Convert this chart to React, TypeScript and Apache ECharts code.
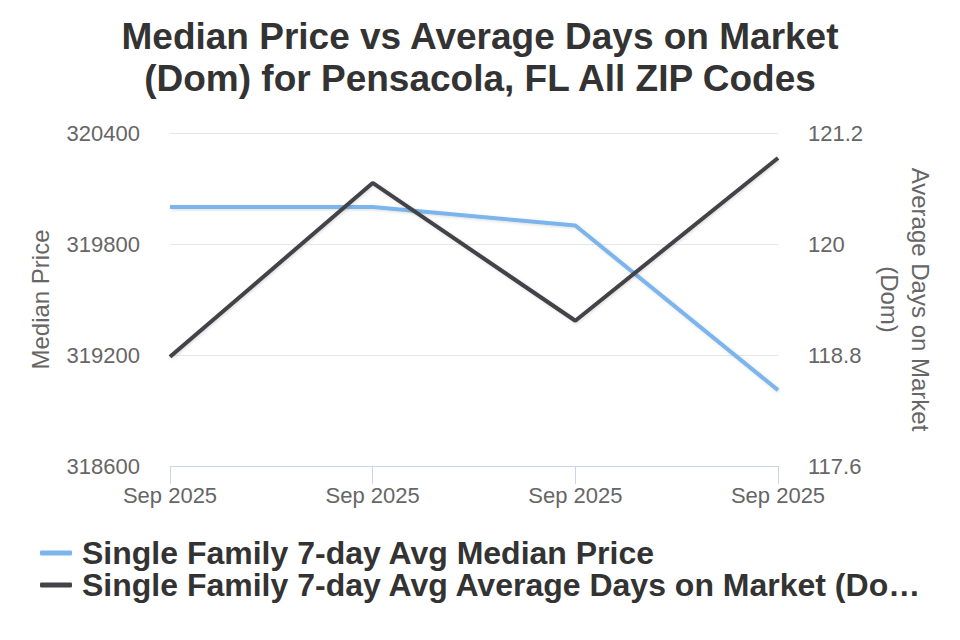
import React, { useEffect, useRef } from "react";
import * as echarts from "echarts";

const categories = ["Sep 2025", "Sep 2025", "Sep 2025", "Sep 2025"];
const medianPrice = [320000, 320000, 319900, 319010];
const daysOnMarket = [118.78, 120.66, 119.17, 120.93];
const priceTicks = { min: 318600, max: 320400, interval: 600 };
const domTicks = { min: 117.6, max: 121.2, interval: 1.2 };

const FONT = "'Liberation Sans', Arial, Helvetica, sans-serif";
const BLUE = "#7cb5ec";
const DARK = "#434348";
const LABEL = "#666666";

const lineShadow = {
  shadowColor: "rgba(0,0,0,0.15)",
  shadowBlur: 3,
  shadowOffsetX: 1,
  shadowOffsetY: 1,
};

const tickLabel = (digits: number) => (v: number) =>
  String(Math.round(v * Math.pow(10, digits)) / Math.pow(10, digits));

export default function App() {
  const ref = useRef<HTMLDivElement>(null);

  useEffect(() => {
    if (!ref.current) return;
    const chart = echarts.init(ref.current, undefined, { renderer: "svg" });
    chart.setOption({
      animation: false,
      backgroundColor: "#ffffff",
      textStyle: { fontFamily: FONT },
      title: {
        text: "Median Price vs Average Days on Market\n(Dom) for Pensacola, FL All ZIP Codes",
        left: "center",
        top: 10,
        textStyle: {
          fontFamily: FONT,
          fontSize: 37,
          fontWeight: "bold",
          color: "#333333",
          lineHeight: 42,
        },
      },
      grid: { left: 170, right: 182, top: 133, bottom: 174 },
      legend: {
        orient: "vertical",
        left: 35,
        top: 532,
        itemGap: 0,
        icon: "roundRect",
        itemWidth: 32,
        itemHeight: 5,
        textStyle: {
          fontFamily: FONT,
          fontSize: 32,
          fontWeight: "bold",
          color: "#333333",
          lineHeight: 31,
          padding: [0, 0, 0, 5],
          width: 842,
          overflow: "truncate",
          ellipsis: "…",
        },
      },
      xAxis: {
        type: "category",
        data: categories,
        boundaryGap: false,
        axisLine: { lineStyle: { color: "#ccd6eb", width: 1 } },
        axisTick: { length: 18, lineStyle: { color: "#ccd6eb" } },
        axisLabel: { color: LABEL, fontSize: 22, margin: 18, fontFamily: FONT },
        splitLine: { show: false },
      },
      yAxis: [
        {
          type: "value",
          ...priceTicks,
          name: "Median Price",
          nameLocation: "middle",
          nameGap: 118,
          nameTextStyle: { color: LABEL, fontSize: 24, fontFamily: FONT },
          axisLine: { show: false },
          axisTick: { show: false },
          axisLabel: {
            color: LABEL,
            fontSize: 22,
            margin: 30,
            fontFamily: FONT,
            formatter: tickLabel(0),
          },
          splitLine: { lineStyle: { color: "#e6e6e6", width: 1 } },
        },
        {
          type: "value",
          position: "right",
          ...domTicks,
          name: "Average Days on Market\n(Dom)",
          nameLocation: "middle",
          nameRotate: -90,
          nameGap: 93,
          nameTextStyle: {
            color: LABEL,
            fontSize: 24,
            fontFamily: FONT,
            lineHeight: 31,
          },
          axisLine: { show: false },
          axisTick: { show: false },
          axisLabel: {
            color: LABEL,
            fontSize: 22,
            margin: 30,
            fontFamily: FONT,
            formatter: tickLabel(1),
          },
          splitLine: { show: false },
        },
      ],
      series: [
        {
          name: "Single Family 7-day Avg Median Price",
          type: "line",
          yAxisIndex: 0,
          data: medianPrice,
          showSymbol: false,
          symbol: "none",
          color: BLUE,
          lineStyle: { color: BLUE, width: 4, ...lineShadow },
          z: 2,
        },
        {
          name: "Single Family 7-day Avg Average Days on Market (Dom)",
          type: "line",
          yAxisIndex: 1,
          data: daysOnMarket,
          showSymbol: false,
          symbol: "none",
          color: DARK,
          lineStyle: { color: DARK, width: 4, ...lineShadow },
          z: 3,
        },
      ],
    });
    return () => chart.dispose();
  }, []);

  return (
    <div
      ref={ref}
      style={{ position: "absolute", left: 0, top: 0, width: 960, height: 640 }}
    />
  );
}
